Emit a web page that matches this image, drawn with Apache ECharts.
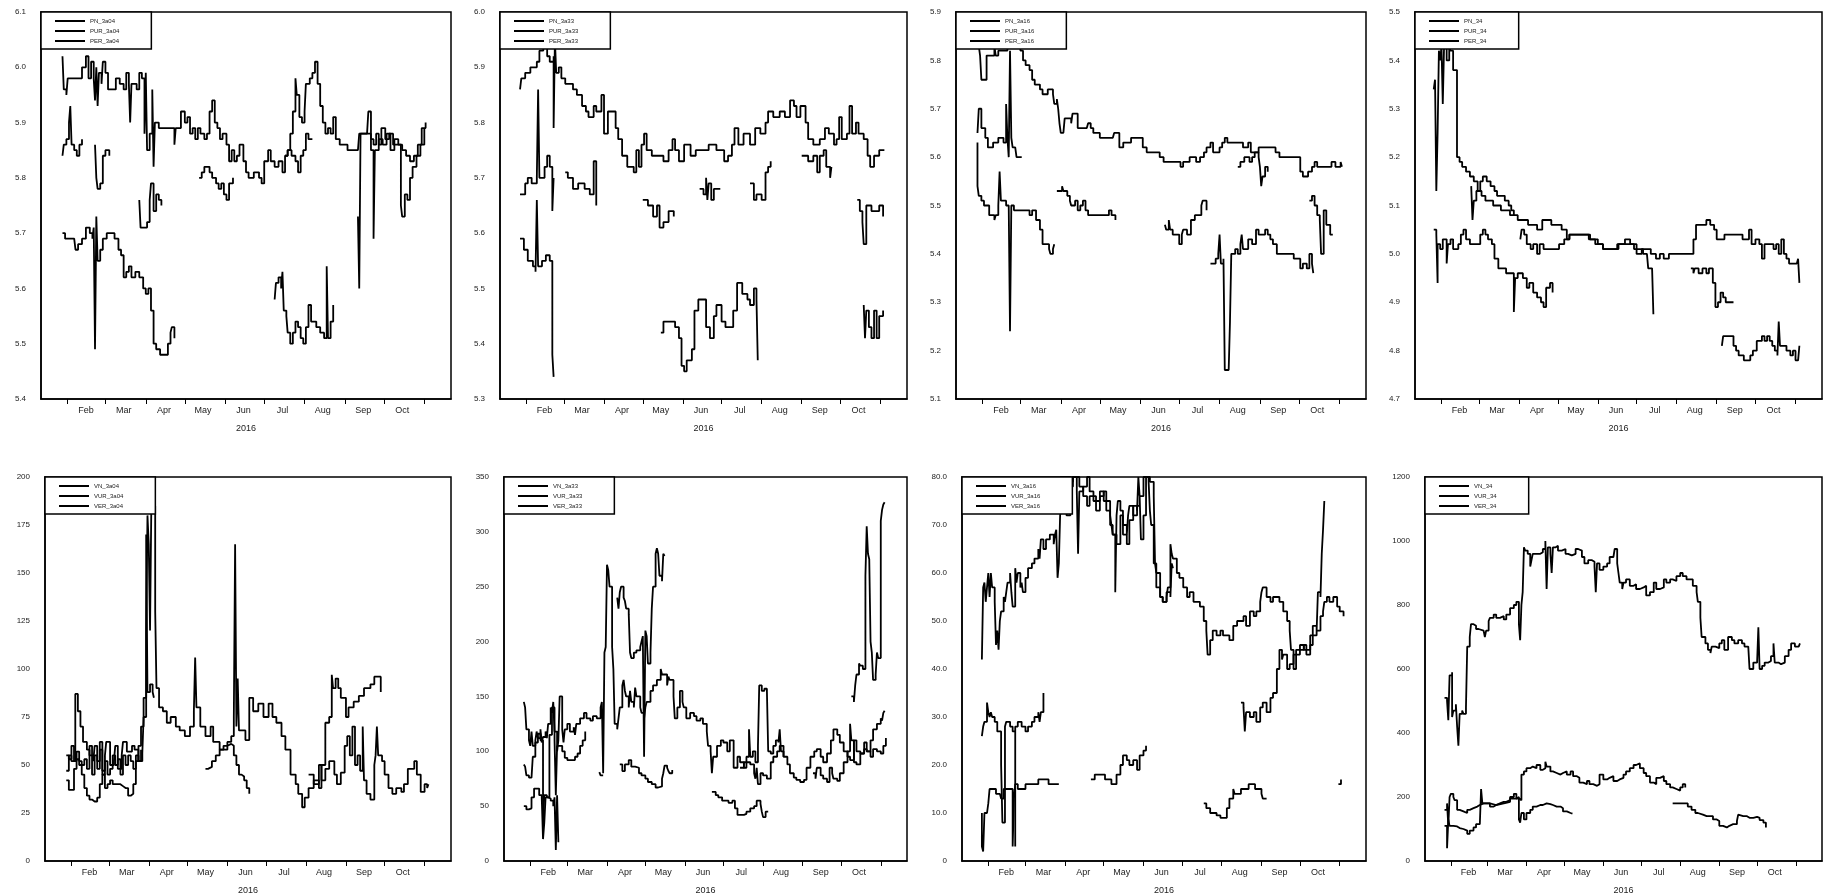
<!DOCTYPE html>
<html>
<head>
<meta charset="utf-8">
<script src="https://cdn.jsdelivr.net/npm/echarts@6/dist/echarts.min.js"></script>
<style>
  html, body { margin: 0; padding: 0; background: #fff; }
  #chart { width: 1828px; height: 896px; }
</style>
</head>
<body>
<div id="chart"></div>
<script>
// x values are day-of-year 2016 (0 = Jan 1), null = gap in the series
const monthNames = ['Feb', 'Mar', 'Apr', 'May', 'Jun', 'Jul', 'Aug', 'Sep', 'Oct'];
const monthStarts = [31, 60, 91, 121, 152, 182, 213, 244, 274, 305]; // Feb 1 .. Nov 1
const monthMids = [45, 74, 105, 135, 166, 196, 227, 258, 288];
const yearLabel = '2016';

// ---- price panels ----
const pn04 = [[27,6.02],[28,5.96],[30,5.95],[31,5.98],[40,5.98],[42,6.00],[45,6.02],[47,5.98],[49,6.01],[51,5.98],[52,5.94],[53,6.0],[54,5.93],[55,5.99],[57,5.97],[58,6.01],[60,5.99],[62,5.96],[66,5.96],[68,5.98],[71,5.97],[74,5.96],[76,5.99],[78,5.97],[79,5.90],[80,5.97],[84,5.96],[86,5.99],[88,5.98],[90,5.88],[91,5.99],[92,5.85],[94,5.88],[96,5.96],[97,5.82],[98,5.90],[101,5.89],[105,5.89],[108,5.89],[111,5.89],[113,5.86],[114,5.89],[116,5.89],[118,5.92],[121,5.90],[123,5.91],[125,5.88],[127,5.89],[129,5.87],[131,5.89],[133,5.88],[136,5.87],[138,5.88],[140,5.92],[142,5.94],[144,5.90],[146,5.89],[148,5.87],[150,5.88],[153,5.86],[155,5.83],[157,5.85],[159,5.83],[161,5.84],[163,5.86],[166,5.83],[168,5.81],[170,5.80],[174,5.81],[178,5.80],[180,5.79],[182,5.83],[185,5.85],[187,5.83],[190,5.82],[193,5.83],[196,5.81],[198,5.84],[200,5.85],[202,5.88],[204,5.92],[206,5.98],[207,5.95],[209,5.91],[211,5.90],[213,5.92],[214,5.97],[217,5.98],[219,5.99],[221,6.01],[223,5.97],[225,5.93],[227,5.90],[229,5.88],[231,5.89],[233,5.88],[235,5.91],[237,5.87],[240,5.86],[243,5.86],[246,5.85],[250,5.85],[254,5.85],[255,5.88],[261,5.88],[262,5.92],[264,5.87],[266,5.86],[268,5.88],[270,5.86],[272,5.89],[275,5.87],[278,5.88],[281,5.86],[284,5.86],[288,5.85],[291,5.84],[294,5.83],[297,5.84],[300,5.86],[303,5.89],[306,5.90]];
const pur04 = [[27,5.84],[28,5.86],[30,5.87],[32,5.90],[33,5.93],[34,5.86],[36,5.85],[38,5.84],[40,5.86],[42,5.87],null,[52,5.86],[53,5.80],[54,5.78],[56,5.79],[58,5.84],[60,5.85],[63,5.84],null,[86,5.76],[87,5.71],[90,5.71],[92,5.72],[94,5.76],[95,5.79],[97,5.74],[99,5.77],[101,5.76],[103,5.75],null,[132,5.80],[134,5.81],[136,5.82],[140,5.81],[142,5.80],[145,5.79],[147,5.78],[149,5.79],[151,5.77],[153,5.76],[155,5.79],[158,5.80],null,[198,5.84],[200,5.85],[203,5.84],[206,5.83],[208,5.81],[210,5.84],[212,5.85],[214,5.88],[216,5.87],[219,5.87],null,[254,5.73],[255,5.60],[256,5.88],[262,5.88],[264,5.85],[266,5.69],[267,5.85],[270,5.87],[273,5.86],[276,5.88],[279,5.85],[282,5.87],[285,5.86],[287,5.75],[288,5.73],[290,5.77],[292,5.76],[294,5.80],[296,5.82],[299,5.84],[302,5.86],[305,5.89]];
const per04 = [[27,5.70],[29,5.69],[36,5.69],[37,5.67],[39,5.68],[42,5.69],[45,5.71],[48,5.70],[50,5.69],[51,5.71],[52,5.49],[53,5.73],[54,5.65],[56,5.67],[58,5.69],[61,5.70],[64,5.70],[67,5.69],[70,5.67],[72,5.66],[74,5.62],[76,5.63],[78,5.64],[80,5.62],[83,5.63],[86,5.62],[89,5.60],[91,5.59],[93,5.60],[95,5.56],[97,5.50],[99,5.49],[102,5.48],[106,5.48],[108,5.50],[110,5.52],[111,5.53],[113,5.51],null,[190,5.58],[191,5.61],[193,5.62],[195,5.60],[196,5.63],[197,5.56],[199,5.55],[200,5.52],[202,5.50],[204,5.52],[206,5.54],[208,5.53],[210,5.51],[212,5.50],[214,5.53],[216,5.57],[218,5.54],[220,5.54],[222,5.53],[225,5.52],[228,5.51],[230,5.64],[231,5.51],[233,5.54],[235,5.57]];

const pn33 = [[26,5.86],[27,5.88],[30,5.89],[34,5.90],[39,5.91],[41,5.93],[44,5.94],[47,5.92],[49,5.91],[52,5.92],[52,5.79],[53,5.95],[54,5.89],[56,5.90],[58,5.88],[61,5.87],[65,5.87],[67,5.86],[70,5.85],[74,5.83],[77,5.82],[79,5.81],[83,5.83],[85,5.82],[89,5.85],[91,5.78],[94,5.82],[100,5.79],[102,5.77],[105,5.74],[109,5.72],[114,5.71],[116,5.75],[118,5.72],[120,5.76],[122,5.78],[124,5.75],[128,5.74],[134,5.74],[137,5.73],[141,5.75],[144,5.77],[146,5.75],[149,5.73],[153,5.76],[158,5.74],[162,5.75],[168,5.75],[172,5.76],[178,5.75],[184,5.73],[187,5.74],[190,5.76],[192,5.79],[195,5.76],[199,5.78],[204,5.76],[208,5.79],[212,5.78],[216,5.80],[218,5.82],[222,5.81],[227,5.82],[231,5.81],[235,5.84],[238,5.83],[240,5.81],[243,5.83],[247,5.80],[249,5.77],[253,5.76],[258,5.77],[262,5.79],[265,5.78],[269,5.76],[271,5.77],[273,5.81],[275,5.77],[279,5.78],[281,5.83],[283,5.78],[286,5.80],[288,5.78],[292,5.77],[295,5.74],[297,5.72],[300,5.74],[304,5.75],[308,5.75]];
const pur33 = [[26,5.67],[30,5.69],[32,5.70],[35,5.69],[39,5.70],[40,5.86],[41,5.70],[45,5.72],[47,5.74],[49,5.72],[51,5.64],[52,5.70],null,[61,5.71],[63,5.70],[67,5.68],[71,5.69],[76,5.68],[80,5.67],[83,5.73],[85,5.65],null,[121,5.66],[125,5.65],[129,5.63],[132,5.65],[134,5.61],[137,5.62],[141,5.64],[145,5.63],null,[165,5.68],[168,5.67],[170,5.70],[171,5.66],[172,5.69],[174,5.66],[176,5.68],[181,5.68],null,[204,5.69],[207,5.66],[209,5.67],[213,5.66],[216,5.71],[218,5.72],[220,5.73],null,[244,5.74],[249,5.73],[253,5.74],[256,5.71],[258,5.74],[261,5.75],[263,5.72],[266,5.70],[267,5.72],null,[287,5.66],[289,5.64],[291,5.62],[292,5.58],[294,5.65],[298,5.64],[304,5.65],[307,5.63]];
const per33 = [[26,5.59],[29,5.57],[32,5.55],[36,5.54],[38,5.53],[39,5.66],[40,5.54],[43,5.55],[46,5.56],[49,5.55],[50,5.55],[51,5.38],[52,5.34],null,[135,5.42],[137,5.44],[142,5.44],[146,5.43],[149,5.41],[151,5.36],[153,5.35],[155,5.37],[159,5.39],[161,5.46],[164,5.48],[168,5.48],[170,5.43],[173,5.41],[176,5.45],[178,5.47],[182,5.44],[185,5.43],[189,5.43],[191,5.46],[194,5.51],[198,5.49],[202,5.48],[204,5.47],[207,5.50],[209,5.48],[210,5.37],null,[292,5.47],[293,5.41],[294,5.46],[296,5.43],[298,5.41],[300,5.46],[302,5.41],[304,5.45],[307,5.46]];

const pn16 = [[28,5.83],[29,5.81],[30,5.76],[32,5.76],[34,5.81],[38,5.81],[40,5.83],[41,5.81],[43,5.82],[47,5.82],[50,5.85],[52,5.83],[53,5.86],[56,5.83],[60,5.82],[62,5.80],[64,5.79],[67,5.78],[69,5.76],[71,5.75],[75,5.74],[77,5.73],[79,5.73],[81,5.74],[83,5.74],[85,5.73],[86,5.71],[88,5.72],[89,5.70],[90,5.67],[91,5.65],[93,5.65],[94,5.68],[96,5.68],[99,5.67],[100,5.69],[102,5.69],[104,5.66],[108,5.66],[111,5.66],[112,5.67],[114,5.66],[116,5.65],[121,5.64],[126,5.64],[131,5.64],[132,5.65],[134,5.65],[136,5.62],[139,5.63],[142,5.63],[145,5.64],[148,5.64],[152,5.64],[154,5.62],[157,5.61],[162,5.61],[164,5.61],[167,5.60],[170,5.59],[172,5.59],[177,5.59],[181,5.59],[183,5.58],[185,5.59],[188,5.59],[190,5.60],[193,5.60],[195,5.59],[198,5.60],[201,5.61],[203,5.62],[206,5.63],[208,5.61],[210,5.61],[213,5.62],[215,5.63],[217,5.64],[219,5.63],[221,5.63],[225,5.63],[229,5.63],[231,5.62],[233,5.62],[235,5.63],[237,5.61],[239,5.61],[243,5.62],[247,5.62],[252,5.62],[256,5.61],[259,5.60],[263,5.60],[268,5.60],[272,5.60],[275,5.57],[277,5.56],[279,5.56],[281,5.57],[284,5.58],[286,5.59],[288,5.58],[290,5.58],[296,5.58],[299,5.59],[302,5.58],[304,5.58],[306,5.59],[307,5.58]];
const pur16 = [[27,5.65],[28,5.70],[30,5.66],[33,5.64],[35,5.62],[39,5.63],[43,5.64],[47,5.63],[49,5.71],[50,5.64],[51,5.60],[52,5.82],[53,5.64],[54,5.62],[56,5.62],[57,5.60],[61,5.60],null,[88,5.53],[90,5.53],[92,5.54],[93,5.53],[96,5.52],[98,5.51],[99,5.50],[102,5.51],[104,5.49],[106,5.50],[108,5.51],[110,5.49],[112,5.48],[121,5.48],[126,5.48],[128,5.49],[130,5.48],[133,5.47],null,[171,5.46],[172,5.45],[174,5.47],[175,5.45],[177,5.44],[179,5.44],[182,5.42],[184,5.44],[185,5.45],[188,5.44],[191,5.47],[194,5.48],[197,5.48],[199,5.50],[200,5.51],[203,5.49],null,[227,5.58],[229,5.59],[232,5.60],[236,5.59],[238,5.60],[240,5.61],[243,5.60],[244,5.58],[245,5.54],[246,5.56],[248,5.58],[250,5.57],null,[282,5.51],[284,5.52],[286,5.50],[288,5.48],[290,5.47],[291,5.40],[293,5.49],[295,5.46],[298,5.44],[300,5.44]];
const per16 = [[27,5.63],[27,5.54],[28,5.52],[30,5.51],[32,5.50],[34,5.50],[36,5.48],[38,5.48],[40,5.47],[41,5.48],[43,5.50],[44,5.57],[45,5.51],[47,5.51],[49,5.50],[51,5.50],[52,5.24],[53,5.50],[55,5.49],[57,5.49],[60,5.49],[63,5.49],[65,5.49],[67,5.48],[69,5.49],[72,5.47],[75,5.45],[77,5.42],[80,5.42],[82,5.41],[83,5.40],[85,5.41],[86,5.42],null,[206,5.38],[208,5.38],[210,5.39],[212,5.40],[213,5.44],[214,5.38],[216,5.39],[217,5.16],[220,5.16],[221,5.26],[222,5.40],[225,5.41],[227,5.40],[229,5.42],[230,5.44],[231,5.41],[233,5.41],[235,5.43],[238,5.42],[241,5.45],[243,5.44],[245,5.44],[248,5.45],[250,5.44],[252,5.43],[254,5.42],[257,5.40],[262,5.40],[267,5.40],[270,5.39],[272,5.39],[275,5.37],[277,5.38],[280,5.37],[282,5.40],[284,5.38],[285,5.36]];

const pn34 = [[25,5.34],[26,5.36],[27,5.13],[28,5.25],[29,5.42],[30,5.40],[31,5.43],[32,5.31],[33,5.43],[35,5.40],[37,5.43],[38,5.42],[40,5.38],[43,5.38],[43,5.20],[45,5.19],[47,5.18],[50,5.17],[53,5.16],[56,5.15],[59,5.13],[62,5.12],[65,5.11],[68,5.11],[71,5.10],[74,5.10],[77,5.09],[80,5.09],[84,5.08],[87,5.08],[90,5.07],[94,5.07],[98,5.06],[102,5.06],[105,5.05],[109,5.07],[112,5.07],[116,5.06],[120,5.06],[124,5.05],[128,5.03],[130,5.04],[135,5.04],[140,5.04],[143,5.04],[146,5.03],[148,5.03],[152,5.02],[156,5.01],[160,5.01],[164,5.01],[167,5.02],[169,5.02],[173,5.03],[177,5.02],[180,5.01],[182,5.00],[186,5.01],[190,5.01],[193,5.00],[197,4.99],[200,5.00],[203,4.99],[207,5.00],[212,5.00],[218,5.00],[224,5.00],[226,5.03],[228,5.06],[231,5.06],[236,5.07],[239,5.06],[242,5.05],[244,5.03],[247,5.03],[250,5.04],[254,5.04],[258,5.04],[262,5.04],[264,5.03],[267,5.03],[269,5.05],[271,5.02],[274,5.03],[277,5.02],[279,4.99],[281,5.02],[285,5.02],[288,5.01],[290,5.02],[292,5.00],[294,5.03],[296,5.00],[298,4.99],[300,4.98],[303,4.98],[306,4.98],[307,4.99],[308,4.94]];
const pur34 = [[54,5.14],[55,5.07],[56,5.11],[58,5.13],[61,5.15],[63,5.16],[66,5.15],[69,5.14],[72,5.13],[74,5.12],[77,5.12],[80,5.11],[83,5.10],[85,5.09],[87,5.08],null,[92,5.03],[93,5.05],[95,5.04],[97,5.02],[100,5.01],[102,5.02],[105,5.00],[107,5.02],[110,5.01],[114,5.01],[118,5.01],[122,5.02],[126,5.03],[130,5.04],[135,5.04],[140,5.04],[145,5.03],[150,5.02],[156,5.01],[162,5.01],[168,5.02],[175,5.02],[182,5.01],[187,5.00],[190,5.00],[191,4.97],[194,4.97],[195,4.875],null,[224,4.97],[226,4.96],[227,4.97],[230,4.96],[233,4.97],[236,4.96],[238,4.97],[241,4.94],[243,4.89],[245,4.90],[247,4.92],[249,4.91],[251,4.90],[254,4.90],[257,4.90]];
const per34 = [[25,5.05],[27,5.04],[28,4.94],[28,5.02],[30,5.01],[32,5.03],[35,4.98],[36,5.02],[38,5.03],[40,5.01],[42,5.01],[44,5.02],[46,5.04],[48,5.05],[50,5.03],[53,5.02],[56,5.02],[58,5.02],[61,5.04],[63,5.05],[65,5.04],[67,5.03],[70,5.02],[72,4.99],[75,4.97],[77,4.97],[79,4.97],[81,4.96],[84,4.96],[87,4.88],[88,4.95],[90,4.96],[92,4.96],[94,4.95],[97,4.93],[99,4.94],[102,4.92],[105,4.91],[108,4.90],[110,4.89],[112,4.93],[115,4.94],[117,4.92],null,[248,4.81],[249,4.83],[253,4.83],[255,4.83],[257,4.81],[259,4.80],[261,4.79],[263,4.79],[265,4.78],[267,4.78],[270,4.79],[272,4.80],[275,4.82],[277,4.82],[279,4.83],[281,4.82],[283,4.83],[285,4.82],[287,4.81],[289,4.80],[291,4.79],[292,4.86],[293,4.81],[295,4.81],[298,4.80],[301,4.79],[303,4.80],[305,4.78],[307,4.78],[308,4.81]];

// ---- volume panels ----
const vn04 = [[27,47],[29,55],[31,52],[34,87],[36,78],[38,70],[40,62],[43,58],[45,55],[48,52],[49,60],[51,48],[53,62],[55,45],[57,55],[58,62],[61,50],[64,52],[65,60],[67,48],[70,55],[71,62],[74,57],[78,60],[80,58],[83,52],[86,56],[87,75],[89,118],[90,180],[91,165],[92,120],[93,185],[96,130],[97,90],[99,80],[102,78],[105,72],[108,75],[112,70],[115,68],[119,65],[123,70],[126,78],[127,106],[128,80],[131,70],[135,65],[139,70],[141,62],[146,58],[152,62],[155,65],[157,75],[158,165],[159,70],[160,95],[161,68],[163,68],[166,63],[169,85],[172,78],[176,82],[180,75],[184,82],[187,75],[190,72],[194,65],[197,58],[201,45],[205,40],[207,35],[210,28],[212,33],[215,38],[219,42],[223,38],[225,50],[228,72],[231,75],[233,97],[234,90],[236,95],[238,90],[240,85],[244,75],[246,80],[250,83],[254,86],[258,90],[263,92],[266,96],[271,88]];
const vur04 = [[27,42],[29,37],[31,37],[33,48],[35,53],[37,50],[39,45],[41,38],[43,34],[45,32],[47,31],[49,31],[51,33],[53,40],[55,45],[57,38],[59,40],[61,42],[63,40],[65,40],[67,40],[69,39],[71,38],[73,38],[75,34],[77,35],[79,40],[81,52],[83,60],[85,70],[87,85],[89,170],[90,88],[92,92],[94,88],[95,85],null,[135,48],[137,49],[140,52],[143,55],[146,58],[149,60],[152,61],[155,60],[157,55],[159,50],[161,45],[163,44],[165,42],[167,38],[169,35]];
const ver04 = [[27,55],[29,53],[31,60],[33,52],[35,57],[37,52],[39,50],[41,53],[43,48],[45,60],[47,45],[49,55],[51,52],[53,58],[55,47],[57,52],[59,45],[61,48],[63,55],[65,50],[67,53],[69,45],[71,55],[73,50],[75,55],[77,52],[79,48],[81,55],[83,52],[85,58],null,[215,45],[219,40],[223,50],[225,42],[228,48],[231,52],[235,45],[237,40],[240,46],[243,60],[245,65],[247,55],[249,70],[251,50],[253,55],[255,47],[257,70],[258,42],[260,35],[263,32],[266,50],[267,55],[268,70],[269,55],[272,52],[274,45],[277,38],[280,35],[283,38],[287,36],[289,40],[292,48],[294,48],[297,52],[299,45],[302,36],[305,40],[307,38],[308,40]];

const vn33 = [[26,145],[27,140],[28,120],[30,110],[31,105],[32,118],[33,105],[35,110],[36,118],[37,112],[39,120],[40,108],[41,113],[43,118],[44,112],[45,125],[47,140],[48,135],[49,145],[50,118],[52,100],[53,110],[54,150],[56,120],[57,108],[58,120],[60,125],[62,118],[65,122],[66,115],[67,125],[70,130],[73,135],[75,130],[78,128],[80,132],[83,130],[86,140],[87,145],[88,80],[89,190],[90,195],[91,270],[92,265],[93,250],[95,195],[96,175],[97,125],[99,120],[100,130],[101,140],[103,160],[104,165],[105,155],[106,150],[108,140],[109,155],[110,145],[112,140],[113,158],[114,150],[117,140],[118,135],[120,130],[121,140],[122,145],[125,155],[127,160],[130,165],[133,175],[134,170],[135,170],[138,160],[139,168],[140,165],[143,150],[144,130],[146,140],[148,155],[150,145],[151,140],[153,130],[156,135],[159,132],[161,128],[164,130],[166,125],[169,118],[170,105],[172,100],[173,80],[174,95],[177,105],[180,110],[182,108],[185,100],[187,110],[190,85],[193,95],[195,90],[198,85],[200,90],[203,88],[206,80],[207,75],[208,85],[209,70],[211,80],[213,78],[216,75],[219,90],[221,95],[224,100],[226,105],[229,95],[232,88],[234,80],[237,76],[239,74],[242,72],[245,74],[247,85],[250,95],[253,100],[255,102],[258,95],[260,90],[263,98],[266,110],[268,120],[271,115],[273,108],[276,100],[279,95],[281,92],[284,110],[286,100],[289,98],[292,108],[294,100],[297,95],[299,102],[302,100],[305,98],[307,105],[309,112]];
const vur33 = [[26,88],[27,86],[28,78],[30,76],[32,76],[33,95],[35,108],[37,116],[39,110],[41,35],[42,60],[44,58],[46,115],[48,140],[50,110],[51,60],[52,105],[54,105],[56,100],[58,94],[60,92],[63,92],[66,95],[68,98],[70,105],[72,110],[74,118],null,[99,240],[100,230],[101,245],[102,250],[104,240],[105,237],[106,230],[108,225],[109,190],[110,185],[112,190],[114,192],[117,195],[118,200],[119,205],[120,95],[121,210],[122,205],[123,180],[125,190],[126,230],[127,250],[129,280],[130,285],[131,280],[132,260],[134,255],[135,280],[136,278],null,[195,85],[198,90],[200,95],[202,120],[203,95],[205,100],[207,90],[209,105],[210,160],[212,155],[214,157],[216,155],[217,100],[219,98],[221,105],[223,110],[225,108],[226,120],[227,100],[229,95],null,[282,150],[284,145],[285,160],[286,170],[288,180],[289,178],[291,175],[293,260],[294,305],[295,280],[296,275],[297,200],[298,190],[299,165],[301,170],[302,190],[303,185],[305,310],[306,320],[307,325],[308,327]];
const ver33 = [[26,50],[28,47],[30,48],[32,58],[34,66],[36,66],[38,60],[40,58],[41,20],[42,35],[43,58],[45,57],[47,55],[49,50],[50,58],[51,10],[52,60],[53,17],null,[85,81],[86,78],[88,78],null,[101,88],[103,82],[105,88],[108,92],[110,86],[113,85],[116,80],[118,78],[121,75],[123,72],[126,70],[129,67],[131,68],[134,75],[135,80],[136,87],[138,85],[139,82],[140,80],[142,83],null,[173,63],[176,60],[178,58],[181,55],[183,55],[186,53],[189,55],[191,48],[193,42],[195,42],[198,43],[200,45],[203,48],[206,50],[208,55],[211,52],[212,45],[213,40],[215,45],[217,45],null,[252,80],[254,75],[255,85],[258,78],[260,75],[263,72],[265,85],[267,80],[268,75],[271,73],[273,80],[276,90],[279,100],[281,125],[282,110],[284,90],[286,88],[289,98],[292,102],[294,100],[297,110],[299,120],[302,125],[305,130],[306,128],[307,135],[308,137]];

const vn16 = [[26,42],[27,57],[28,58],[29,54],[30,57],[31,60],[32,55],[33,60],[34,57],[36,54],[37,45],[38,48],[39,44],[40,50],[41,52],[43,55],[44,54],[45,56],[46,58],[48,60],[49,56],[50,53],[52,61],[53,58],[54,60],[56,57],[57,58],[58,56],[60,59],[62,61],[65,62],[67,63],[70,65],[71,63],[72,67],[74,65],[76,67],[79,68],[82,66],[83,68],[84,69],[85,59],[86,62],[87,72],[88,74],[89,80],[92,80],[95,78],[97,80],[100,77],[101,64],[102,77],[105,78],[108,80],[110,77],[113,75],[115,73],[118,76],[121,77],[123,75],[126,72],[127,70],[128,68],[130,56],[131,72],[132,75],[134,73],[136,70],[139,68],[140,72],[141,74],[144,72],[147,74],[149,76],[150,67],[152,72],[154,80],[157,79],[160,76],[161,62],[162,60],[165,55],[167,54],[170,55],[171,57],[173,66],[174,64],[175,63],[178,60],[180,59],[183,57],[186,55],[188,56],[191,54],[193,54],[196,53],[199,50],[201,48],[202,43],[204,46],[206,48],[209,47],[212,48],[214,47],[217,47],[219,46],[222,49],[225,50],[227,50],[230,51],[232,49],[235,52],[238,51],[240,52],[243,54],[244,56],[245,57],[248,55],[251,54],[253,55],[256,55],[258,54],[261,52],[264,50],[266,48],[267,44],[269,40],[271,43],[274,44],[277,45],[279,44],[282,45],[284,47],[287,48],[290,51],[292,52],[293,54],[295,55],[297,54],[300,55],[303,53],[305,52],[308,51]];
const vur16 = [[26,26],[27,28],[28,29],[30,33],[31,31],[32,30],[33,31],[34,30],[36,29],[38,27],[41,20],[42,8],[44,28],[45,29],[48,28],[50,27],[52,3],[52,28],[54,29],[57,28],[60,27],[62,28],[65,29],[67,30],[70,31],[71,29],[72,31],[74,35],null,[87,80],[89,76],[92,72],[95,79],[97,80],[100,80],[102,78],[105,76],[108,74],[110,76],[113,76],[115,75],[118,77],[121,75],[123,73],[126,70],[128,68],[131,66],[134,72],[136,68],[139,66],[141,71],[144,74],[147,73],[148,80],[149,76],[152,80],[154,80],[156,79],[157,73],[158,70],[160,62],[162,57],[165,55],[167,54],[170,56],[173,55],[174,62],[175,61],null,[228,33],[230,32],[231,27],[232,31],[235,30],[238,31],[240,29],[243,32],[245,33],[248,31],[251,34],[253,35],[256,40],[258,44],[260,42],[261,43],[264,40],[266,41],[269,43],[271,44],[274,45],[277,44],[279,43],[282,47],[284,49],[287,48],[288,56],[290,55],[291,64],[292,69],[293,75]];
const ver16 = [[26,10],[26,3],[27,2],[28,10],[30,10],[31,12],[32,15],[34,15],[37,14],[40,14],[41,13],[43,15],[44,15],[50,3],[51,13],[52,16],[54,15],[57,15],[60,16],[62,16],[65,16],[67,16],[70,17],[72,17],[75,17],[78,16],[80,16],[83,16],[86,16],null,[111,17],[114,18],[117,18],[119,18],[122,17],[125,17],[127,16],[128,16],[131,18],[134,20],[136,22],[139,21],[141,20],[144,21],[147,19],[149,22],[152,23],[154,24],null,[199,12],[201,11],[204,10],[206,10],[209,9.5],[212,9],[214,9],[217,11],[219,13],[222,15],[223,14],[226,14],[228,15],[231,15],[234,16],[236,16],[239,15],[241,15],[244,14],[245,13],[248,13],null,[304,16],[306,17]];

const vn34 = [[26,510],[28,500],[29,440],[30,580],[32,590],[32,450],[33,470],[35,490],[36,420],[37,360],[38,460],[40,470],[41,460],[43,480],[44,670],[46,700],[47,740],[49,735],[51,725],[53,730],[54,720],[57,715],[58,700],[59,720],[61,750],[62,760],[65,770],[67,760],[70,765],[73,755],[75,770],[78,790],[81,800],[83,810],[85,790],[85,740],[86,690],[87,800],[88,840],[89,980],[90,970],[92,960],[94,920],[95,940],[96,960],[99,960],[102,965],[104,975],[106,1000],[107,850],[108,980],[110,960],[111,900],[112,980],[114,985],[116,970],[119,975],[122,960],[124,955],[127,960],[130,975],[132,970],[135,950],[137,930],[140,940],[143,935],[145,920],[146,840],[147,930],[149,910],[152,920],[155,930],[157,950],[160,955],[161,975],[163,930],[164,900],[165,870],[167,850],[168,870],[170,880],[173,860],[176,865],[178,850],[181,855],[184,860],[186,830],[189,840],[192,870],[194,850],[197,855],[200,880],[202,870],[205,880],[207,875],[210,890],[213,900],[215,890],[218,880],[221,880],[223,860],[226,840],[227,810],[229,760],[230,700],[233,680],[235,660],[237,650],[238,670],[241,665],[244,680],[246,690],[248,660],[251,700],[254,690],[256,680],[259,690],[262,680],[264,670],[267,675],[268,600],[271,620],[274,615],[275,730],[276,600],[278,610],[280,620],[283,625],[285,640],[287,680],[288,620],[291,615],[293,620],[296,640],[299,660],[301,680],[304,670],[307,670],[308,680]];
const vur34 = [[26,160],[28,180],[29,110],[30,200],[31,210],[33,200],[34,190],[36,160],[38,155],[41,150],[44,160],[46,165],[49,170],[52,175],[54,180],[57,180],[59,180],[62,170],[65,175],[67,180],[70,185],[73,185],[75,190],[78,200],[81,210],[83,195],[85,200],[86,190],[87,270],[89,280],[91,290],[94,295],[96,290],[99,300],[102,285],[104,290],[106,310],[107,295],[110,280],[112,275],[115,270],[118,275],[120,280],[123,270],[126,280],[128,265],[131,260],[133,245],[136,240],[139,250],[141,240],[144,235],[147,240],[149,270],[152,255],[155,260],[157,265],[160,250],[163,255],[165,260],[168,270],[170,280],[173,290],[176,300],[178,305],[181,290],[184,275],[186,265],[189,245],[192,240],[194,260],[197,265],[200,250],[202,240],[205,230],[207,225],[210,220],[213,230],[215,240],[217,230]];
const ver34 = [[26,110],[28,70],[28,40],[29,130],[30,110],[33,108],[36,103],[38,100],[41,95],[44,85],[46,95],[49,105],[51,115],[54,118],[55,225],[56,180],[58,180],[62,175],[67,180],[73,185],[78,195],[83,200],[85,130],[86,120],[87,150],[89,130],[91,150],[94,160],[96,170],[99,175],[102,175],[104,180],[107,178],[110,175],[112,170],[115,170],[118,165],[120,155],[123,150],[126,150],[127,148],null,[207,180],[210,180],[214,180],[217,180],[219,170],[222,160],[225,150],[227,145],[231,140],[234,140],[237,140],[239,130],[242,125],[244,110],[247,105],[250,110],[252,115],[255,115],[258,125],[259,145],[260,140],[263,140],[266,135],[268,135],[271,138],[274,135],[276,128],[279,120],[281,105]];

const X_MIN = 10.5;   // Jan 11
const X_MAX = 325.5;  // Nov 21

function toPoints(arr) {
  let last = 0;
  return arr.map(p => {
    if (p === null) return [last + 0.5, '-'];
    last = p[0];
    return [p[0], p[1]];
  });
}

const fmt1 = v => v.toFixed(1);
const fmtInt = v => String(Math.round(v));
const fmtV16 = v => (v === 0 ? '0' : v.toFixed(1));

const panels = [
  { box: [41, 12, 410], y: [5.4, 6.1, 0.1], f: fmt1, names: ['PN_3a04', 'PUR_3a04', 'PER_3a04'], data: [pn04, pur04, per04] },
  { box: [500, 12, 407], y: [5.3, 6.0, 0.1], f: fmt1, names: ['PN_3a33', 'PUR_3a33', 'PER_3a33'], data: [pn33, pur33, per33] },
  { box: [956, 12, 410], y: [5.1, 5.9, 0.1], f: fmt1, names: ['PN_3a16', 'PUR_3a16', 'PER_3a16'], data: [pn16, pur16, per16] },
  { box: [1415, 12, 407], y: [4.7, 5.5, 0.1], f: fmt1, names: ['PN_34', 'PUR_34', 'PER_34'], data: [pn34, pur34, per34] },
  { box: [45, 477, 406], y: [0, 200, 25], f: fmtInt, names: ['VN_3a04', 'VUR_3a04', 'VER_3a04'], data: [vn04, vur04, ver04] },
  { box: [504, 477, 403], y: [0, 350, 50], f: fmtInt, names: ['VN_3a33', 'VUR_3a33', 'VER_3a33'], data: [vn33, vur33, ver33] },
  { box: [962, 477, 404], y: [0, 80, 10], f: fmtV16, names: ['VN_3a16', 'VUR_3a16', 'VER_3a16'], data: [vn16, vur16, ver16] },
  { box: [1425, 477, 397], y: [0, 1200, 200], f: fmtInt, names: ['VN_34', 'VUR_34', 'VER_34'], data: [vn34, vur34, ver34] }
];

const FONT = 'Liberation Sans, Arial, sans-serif';
const option = { animation: false, backgroundColor: '#fff', grid: [], xAxis: [], yAxis: [], legend: [], series: [] };

panels.forEach((p, i) => {
  const [left, top, width] = p.box;
  option.grid.push({ left: left, top: top, width: width, height: 387, show: true, borderColor: '#000', borderWidth: 1.5 });
  option.xAxis.push({
    type: 'value', gridIndex: i, min: X_MIN, max: X_MAX,
    name: yearLabel, nameLocation: 'middle', nameGap: 25,
    nameTextStyle: { fontSize: 9, color: '#222', fontFamily: FONT },
    axisLine: { onZero: false, lineStyle: { color: '#000', width: 1.5 } },
    axisTick: { show: true, length: 5, customValues: monthStarts, lineStyle: { color: '#000', width: 1 } },
    axisLabel: {
      customValues: monthMids, fontSize: 9, color: '#222', margin: 7, fontFamily: FONT,
      formatter: v => { const k = monthMids.indexOf(Math.round(v)); return k >= 0 ? monthNames[k] : ''; }
    },
    splitLine: { show: false }
  });
  option.yAxis.push({
    type: 'value', gridIndex: i, min: p.y[0], max: p.y[1], interval: p.y[2],
    axisLine: { show: true, lineStyle: { color: '#000', width: 1.5 } },
    axisTick: { show: false },
    axisLabel: { fontSize: 8, color: '#222', margin: 15, fontFamily: FONT, formatter: p.f },
    splitLine: { show: false }
  });
  option.legend.push({
    data: p.names, orient: 'vertical', left: left, top: top,
    backgroundColor: '#fff', borderColor: '#000', borderWidth: 1.5,
    padding: [5, 32, 4, 14], itemGap: 2, itemWidth: 30, itemHeight: 2, icon: 'rect',
    textStyle: { fontSize: 6, color: '#222', fontFamily: FONT, lineHeight: 8 },
    selectedMode: false
  });
  p.data.forEach((arr, k) => {
    option.series.push({
      name: p.names[k], type: 'line', xAxisIndex: i, yAxisIndex: i,
      step: 'end', symbol: 'none', showSymbol: false, connectNulls: false,
      lineStyle: { color: '#000', width: 1.8 }, itemStyle: { color: '#000' },
      emphasis: { disabled: true },
      data: toPoints(arr)
    });
  });
});

const chart = echarts.init(document.getElementById('chart'), null, { renderer: 'canvas' });
chart.setOption(option);
</script>
</body>
</html>
